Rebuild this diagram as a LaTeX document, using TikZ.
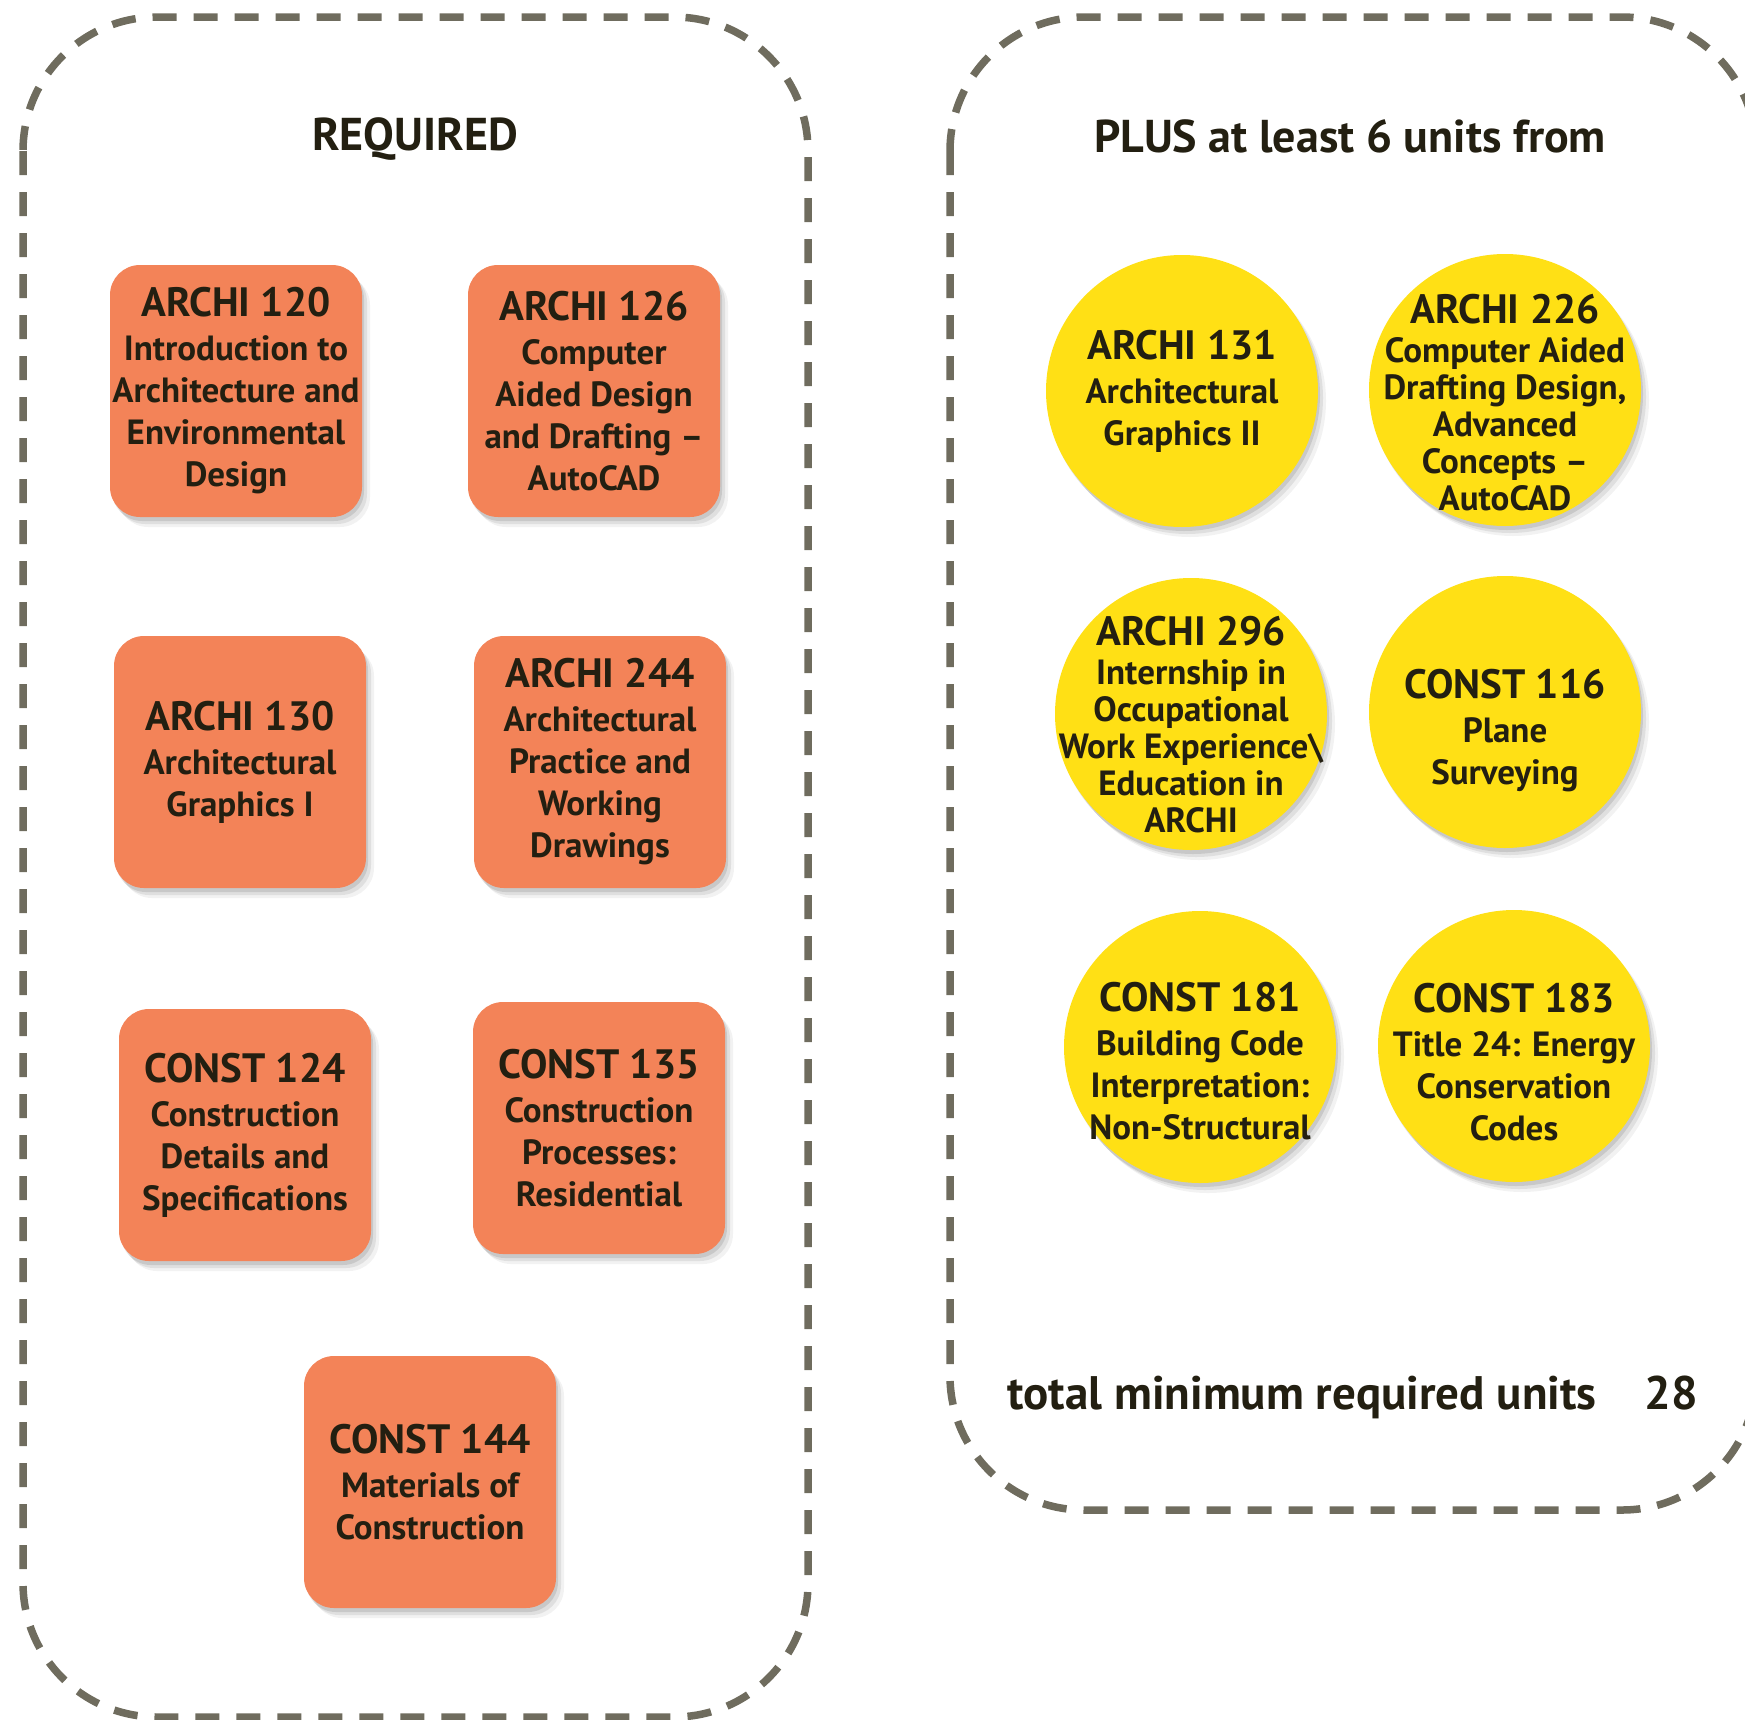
\documentclass[tikz,border=0pt]{standalone}
\usepackage{fontspec}
\setmainfont{PT Sans}
\usetikzlibrary{positioning,shadows}

\definecolor{coursetext}{RGB}{35,31,17}
\definecolor{boxorange}{RGB}{243,131,88}
\definecolor{circyellow}{RGB}{255,224,21}
\definecolor{framegray}{RGB}{111,108,94}

\newcommand\coursetitle[1]{{\fontsize{41}{43}\selectfont #1}\\[2pt]}

\begin{document}
\begin{tikzpicture}[
  x=1pt, y=-1pt,
  every node/.style={text=coursetext, align=center,
    font=\bfseries\fontsize{35}{42}\selectfont},
  frame/.style={draw=framegray, line width=7.5pt,
    dash pattern=on 24pt off 17pt, rounded corners=134pt},
  soft shadow/.style={
    drop shadow={shadow xshift=2pt, shadow yshift=-4pt, opacity=.10, fill=black},
    drop shadow={shadow xshift=5pt, shadow yshift=-7pt, opacity=.08, fill=black},
    drop shadow={shadow xshift=8pt, shadow yshift=-10pt, opacity=.05, fill=black}},
  course box/.style={fill=boxorange, rounded corners=30pt, inner sep=0pt,
    minimum width=252pt, minimum height=252pt, soft shadow},
  course circle/.style={circle, fill=circyellow, inner sep=0pt,
    minimum size=272pt, soft shadow},
  tight/.style={font=\bfseries\fontsize{35}{37}\selectfont},
  heading/.style={font=\bfseries\fontsize{46}{52}\selectfont},
  total/.style={font=\bfseries\fontsize{47}{52}\selectfont},
  ]
  \useasboundingbox (0,0) rectangle (1745,1719);
  % dashed frames
  \draw[frame] (23,17) rectangle (808,1717);
  \draw[frame] (950,17) rectangle (1756,1510);

  % required courses
  \node[heading] (required) at (415,139) {REQUIRED};
  \node[course box] (archiA) at (236,391)
    {\coursetitle{ARCHI 120}Introduction to\\Architecture and\\Environmental\\Design};
  \node[course box] (archiB) at (594,391)
    {\coursetitle{ARCHI 126}Computer\\Aided Design\\and Drafting --\\AutoCAD};
  \node[course box] (archiC) at (240,762)
    {\coursetitle{ARCHI 130}Architectural\\Graphics I};
  \node[course box] (archiD) at (600,762)
    {\coursetitle{ARCHI 244}Architectural\\Practice and\\Working\\Drawings};
  \node[course box] (constA) at (245,1135)
    {\coursetitle{CONST 124}Construction\\Details and\\Specifications};
  \node[course box] (constB) at (599,1128)
    {\coursetitle{CONST 135}Construction\\Processes:\\Residential};
  \node[course box] (constC) at (430,1482)
    {\coursetitle{CONST 144}Materials of\\Construction};

  % elective courses, text set a little below the disc centre
  \node[heading] (plus) at (1350,136) {PLUS at least 6 units from};
  \node[course circle] (archiE) at (1182,391) {};
  \node[course circle] (archiF) at (1505,390) {};
  \node[course circle] (archiG) at (1191,714) {};
  \node[course circle] (constD) at (1505,712) {};
  \node[course circle] (constE) at (1200,1047) {};
  \node[course circle] (constF) at (1514,1046) {};
  \node (archiEtext) at (archiE)
    {\coursetitle{ARCHI 131}Architectural\\Graphics II};
  \node[tight] (archiFtext) at ([yshift=-13pt]archiF)
    {\coursetitle{ARCHI 226}Computer Aided\\Drafting Design,\\Advanced\\Concepts --\\AutoCAD};
  \node[tight] (archiGtext) at ([yshift=-11pt]archiG)
    {\coursetitle{ARCHI 296}Internship in\\Occupational\\Work Experience\textbackslash\\Education in\\ARCHI};
  \node (constDtext) at ([yshift=-19pt]constD)
    {\coursetitle{CONST 116}Plane\\Surveying};
  \node (constEtext) at ([yshift=-14pt]constE)
    {\coursetitle{CONST 181}Building Code\\Interpretation:\\Non-Structural};
  \node (constFtext) at ([yshift=-16pt]constF)
    {\coursetitle{CONST 183}Title 24: Energy\\Conservation\\Codes};

  % total
  \node[total] (sum) at (1302,1397) {total minimum required units};
  \node[total, anchor=base west] (units) at ([xshift=41pt]sum.base east) {28};
\end{tikzpicture}
\end{document}
